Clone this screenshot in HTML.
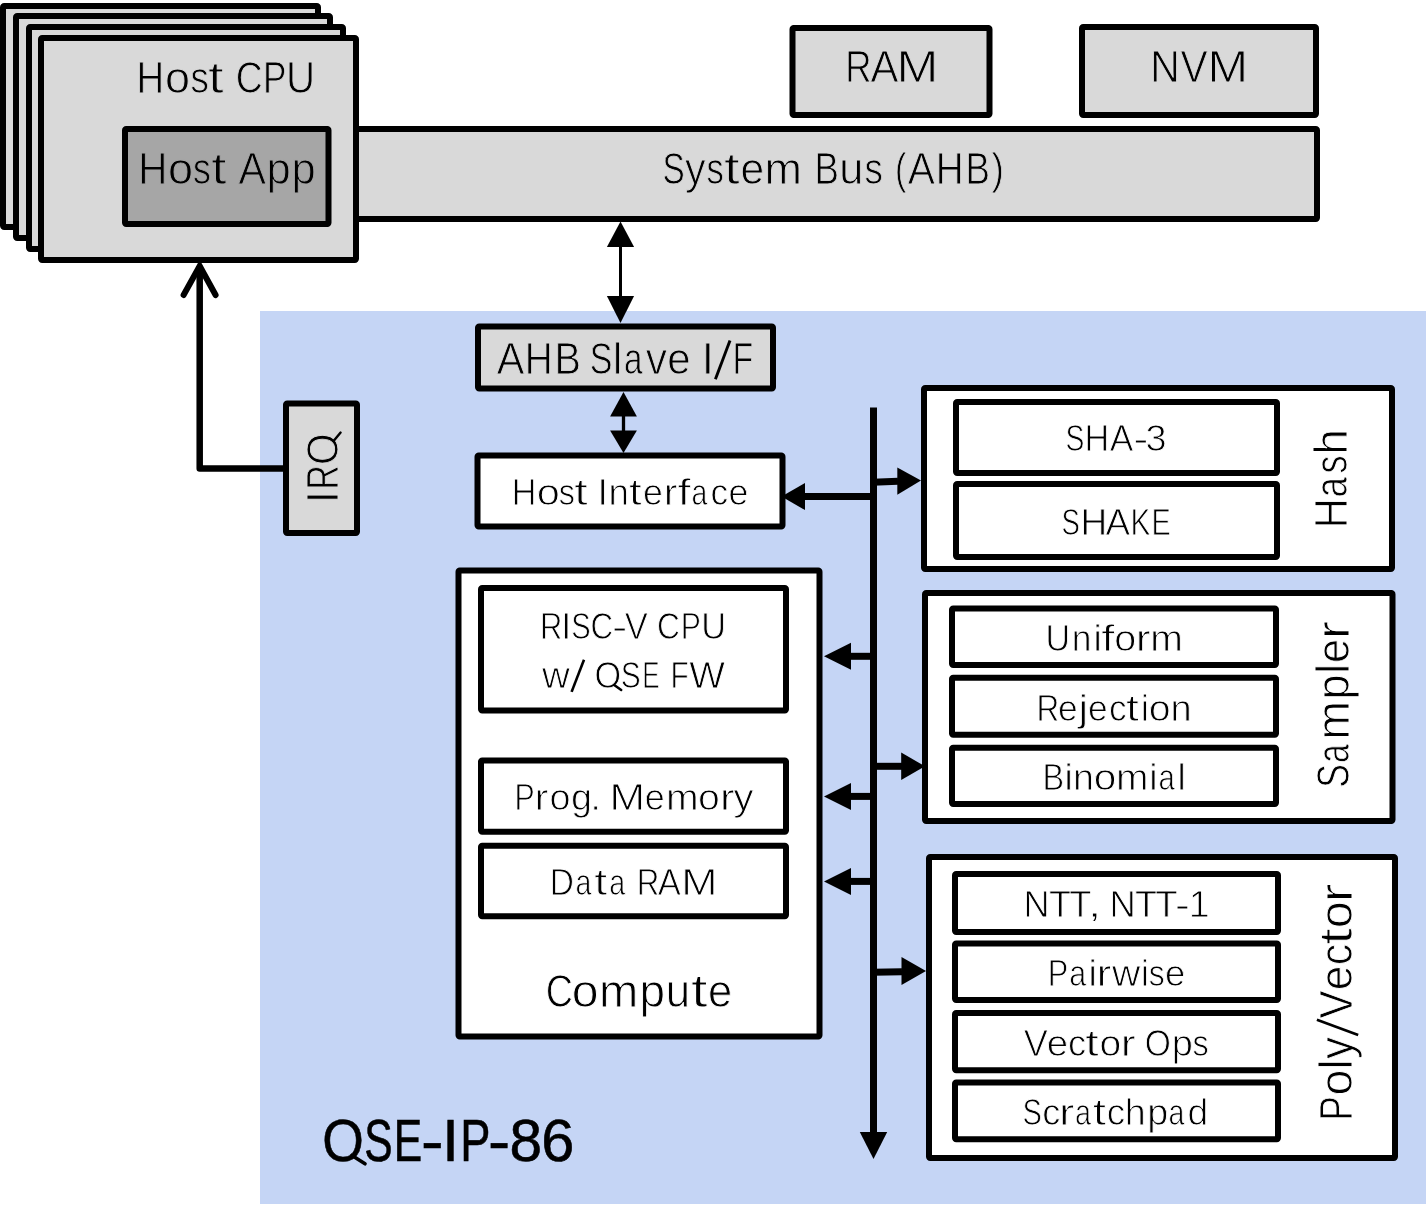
<!DOCTYPE html>
<html><head><meta charset="utf-8"><style>
html,body{margin:0;padding:0;background:#fff;overflow:hidden}
svg{display:block;will-change:transform}
text{font-family:"Liberation Sans",sans-serif;fill:#000}
</style></head><body>
<svg width="1426" height="1217" viewBox="0 0 1426 1217">
<rect x="260" y="311" width="1166" height="893" fill="#c5d5f5"/><rect x="303.00" y="129.00" width="1014.00" height="90.00" fill="#d9d9d9" stroke="#000" stroke-width="6" rx="1.2"/><rect x="3.00" y="6.00" width="315.00" height="221.00" fill="#d9d9d9" stroke="#000" stroke-width="6" rx="1.2"/><rect x="16.00" y="16.00" width="314.00" height="222.00" fill="#d9d9d9" stroke="#000" stroke-width="6" rx="1.2"/><rect x="29.00" y="27.00" width="314.00" height="222.00" fill="#d9d9d9" stroke="#000" stroke-width="6" rx="1.2"/><rect x="41.00" y="38.00" width="315.00" height="222.00" fill="#d9d9d9" stroke="#000" stroke-width="6" rx="1.2"/><rect x="125.00" y="129.00" width="203.50" height="95.00" fill="#a6a6a6" stroke="#000" stroke-width="6" rx="1.2"/><rect x="792.50" y="28.00" width="197.00" height="87.00" fill="#d9d9d9" stroke="#000" stroke-width="6" rx="1.2"/><rect x="1082.00" y="27.00" width="234.00" height="88.00" fill="#d9d9d9" stroke="#000" stroke-width="6" rx="1.2"/><polyline points="283,468.5 199.7,468.5 199.7,266" fill="none" stroke="#000" stroke-width="6.5" stroke-linejoin="round"/><polyline points="183.6,295 199.7,266 215.6,295" fill="none" stroke="#000" stroke-width="6" stroke-linecap="round" stroke-linejoin="miter"/><rect x="286.00" y="403.50" width="71.00" height="129.50" fill="#d9d9d9" stroke="#000" stroke-width="6" rx="1.2"/><rect x="478.00" y="326.50" width="295.00" height="62.00" fill="#d9d9d9" stroke="#000" stroke-width="6" rx="1.2"/><rect x="477.50" y="455.50" width="305.00" height="71.00" fill="#fff" stroke="#000" stroke-width="6" rx="1.2"/><rect x="458.50" y="570.50" width="361.00" height="466.00" fill="#fff" stroke="#000" stroke-width="6" rx="1.2"/><rect x="481.00" y="588.00" width="305.00" height="122.50" fill="#fff" stroke="#000" stroke-width="6" rx="1.2"/><rect x="481.00" y="760.40" width="305.00" height="71.30" fill="#fff" stroke="#000" stroke-width="6" rx="1.2"/><rect x="481.00" y="845.80" width="305.00" height="70.50" fill="#fff" stroke="#000" stroke-width="6" rx="1.2"/><rect x="924.00" y="388.00" width="468.00" height="181.00" fill="#fff" stroke="#000" stroke-width="6" rx="1.2"/><rect x="956.00" y="402.00" width="321.00" height="71.00" fill="#fff" stroke="#000" stroke-width="6" rx="1.2"/><rect x="956.00" y="484.00" width="321.00" height="73.00" fill="#fff" stroke="#000" stroke-width="6" rx="1.2"/><rect x="925.00" y="593.00" width="467.50" height="228.00" fill="#fff" stroke="#000" stroke-width="6" rx="1.2"/><rect x="952.00" y="608.50" width="324.00" height="56.50" fill="#fff" stroke="#000" stroke-width="6" rx="1.2"/><rect x="952.00" y="677.70" width="324.00" height="57.10" fill="#fff" stroke="#000" stroke-width="6" rx="1.2"/><rect x="952.00" y="747.80" width="324.00" height="56.20" fill="#fff" stroke="#000" stroke-width="6" rx="1.2"/><rect x="929.00" y="857.00" width="466.00" height="301.00" fill="#fff" stroke="#000" stroke-width="6" rx="1.2"/><rect x="955.00" y="874.00" width="323.00" height="58.00" fill="#fff" stroke="#000" stroke-width="6" rx="1.2"/><rect x="955.00" y="943.60" width="323.00" height="56.40" fill="#fff" stroke="#000" stroke-width="6" rx="1.2"/><rect x="955.00" y="1013.00" width="323.00" height="57.20" fill="#fff" stroke="#000" stroke-width="6" rx="1.2"/><rect x="955.00" y="1082.50" width="323.00" height="56.70" fill="#fff" stroke="#000" stroke-width="6" rx="1.2"/><line x1="620.5" y1="246" x2="620.5" y2="297" stroke="#000" stroke-width="3"/><polygon points="620.5,221.5 606.9,247 634.1,247" fill="#000"/><polygon points="620.5,323 606.9,296 634.1,296" fill="#000"/><line x1="623.5" y1="416" x2="623.5" y2="431" stroke="#000" stroke-width="3.3"/><polygon points="623.5,392 610.1,416.6 636.9,416.6" fill="#000"/><polygon points="623.5,453 610.1,430.4 636.9,430.4" fill="#000"/><line x1="873.5" y1="407.5" x2="873.5" y2="1133" stroke="#000" stroke-width="7"/><polygon points="873.5,1159 859.8,1132 887.2,1132" fill="#000"/><line x1="804" y1="496.6" x2="873" y2="496.6" stroke="#000" stroke-width="7"/><polygon points="781.5,496.6 805,483.1 805,510.1" fill="#000"/><line x1="873" y1="482.3" x2="898" y2="481.3" stroke="#000" stroke-width="7"/><polygon points="921,480.5 897.3,467.6 897.3,494.8" fill="#000"/><line x1="850" y1="656.3" x2="873" y2="656.3" stroke="#000" stroke-width="7"/><polygon points="824,656.3 851,642.8 851,669.8" fill="#000"/><line x1="850" y1="796.4" x2="873" y2="796.4" stroke="#000" stroke-width="7"/><polygon points="824,796.4 851,782.9 851,809.9" fill="#000"/><line x1="850" y1="881.4" x2="873" y2="881.4" stroke="#000" stroke-width="7"/><polygon points="824,881.4 851,867.9 851,894.9" fill="#000"/><line x1="873" y1="766.3" x2="902" y2="766.3" stroke="#000" stroke-width="7"/><polygon points="925,766.3 901.2,752.5999999999999 901.2,780.0" fill="#000"/><line x1="873" y1="972.3" x2="902" y2="971.8" stroke="#000" stroke-width="7"/><polygon points="926,971 901.5,957 901.5,985" fill="#000"/><text x="136.60" y="92.80" font-size="43.46" font-weight="normal" textLength="27.67" lengthAdjust="spacingAndGlyphs" stroke="#d9d9d9" stroke-width="0.9">H</text><text x="165.00" y="92.80" font-size="43.46" font-weight="normal" textLength="25.04" lengthAdjust="spacingAndGlyphs" stroke="#d9d9d9" stroke-width="0.9">o</text><text x="190.60" y="92.80" font-size="43.46" font-weight="normal" textLength="18.36" lengthAdjust="spacingAndGlyphs" stroke="#d9d9d9" stroke-width="0.9">s</text><text x="208.00" y="92.80" font-size="43.46" font-weight="normal" textLength="15.70" lengthAdjust="spacingAndGlyphs" stroke="#d9d9d9" stroke-width="0.9">t</text><text x="235.80" y="92.80" font-size="43.46" font-weight="normal" textLength="26.94" lengthAdjust="spacingAndGlyphs" stroke="#d9d9d9" stroke-width="0.9">C</text><text x="263.00" y="92.80" font-size="43.46" font-weight="normal" textLength="23.37" lengthAdjust="spacingAndGlyphs" stroke="#d9d9d9" stroke-width="0.9">P</text><text x="286.00" y="92.80" font-size="43.46" font-weight="normal" textLength="29.08" lengthAdjust="spacingAndGlyphs" stroke="#d9d9d9" stroke-width="0.9">U</text><text x="138.20" y="184.00" font-size="43.46" font-weight="normal" textLength="29.15" lengthAdjust="spacingAndGlyphs" stroke="#a6a6a6" stroke-width="0.9">H</text><text x="168.00" y="184.00" font-size="43.46" font-weight="normal" textLength="25.04" lengthAdjust="spacingAndGlyphs" stroke="#a6a6a6" stroke-width="0.9">o</text><text x="193.00" y="184.00" font-size="43.46" font-weight="normal" textLength="17.83" lengthAdjust="spacingAndGlyphs" stroke="#a6a6a6" stroke-width="0.9">s</text><text x="211.20" y="184.00" font-size="43.46" font-weight="normal" textLength="15.25" lengthAdjust="spacingAndGlyphs" stroke="#a6a6a6" stroke-width="0.9">t</text><text x="238.40" y="184.00" font-size="43.46" font-weight="normal" textLength="27.49" lengthAdjust="spacingAndGlyphs" stroke="#a6a6a6" stroke-width="0.9">A</text><text x="266.60" y="184.00" font-size="43.46" font-weight="normal" textLength="24.20" lengthAdjust="spacingAndGlyphs" stroke="#a6a6a6" stroke-width="0.9">p</text><text x="291.60" y="184.00" font-size="43.46" font-weight="normal" textLength="24.17" lengthAdjust="spacingAndGlyphs" stroke="#a6a6a6" stroke-width="0.9">p</text><text x="845.20" y="82.00" font-size="43.90" font-weight="normal" textLength="26.34" lengthAdjust="spacingAndGlyphs" stroke="#d9d9d9" stroke-width="0.9">R</text><text x="870.40" y="82.00" font-size="43.90" font-weight="normal" textLength="27.94" lengthAdjust="spacingAndGlyphs" stroke="#d9d9d9" stroke-width="0.9">A</text><text x="896.40" y="82.00" font-size="43.90" font-weight="normal" textLength="41.85" lengthAdjust="spacingAndGlyphs" stroke="#d9d9d9" stroke-width="0.9">M</text><text x="1150.20" y="81.90" font-size="43.61" font-weight="normal" textLength="29.54" lengthAdjust="spacingAndGlyphs" stroke="#d9d9d9" stroke-width="0.9">N</text><text x="1180.60" y="81.90" font-size="43.61" font-weight="normal" textLength="27.20" lengthAdjust="spacingAndGlyphs" stroke="#d9d9d9" stroke-width="0.9">V</text><text x="1207.40" y="81.90" font-size="43.61" font-weight="normal" textLength="40.57" lengthAdjust="spacingAndGlyphs" stroke="#d9d9d9" stroke-width="0.9">M</text><text x="662.60" y="183.80" font-size="43.46" font-weight="normal" textLength="22.24" lengthAdjust="spacingAndGlyphs" stroke="#d9d9d9" stroke-width="0.9">S</text><text x="685.00" y="183.80" font-size="43.46" font-weight="normal" textLength="20.59" lengthAdjust="spacingAndGlyphs" stroke="#d9d9d9" stroke-width="0.9">y</text><text x="706.40" y="183.80" font-size="43.46" font-weight="normal" textLength="17.28" lengthAdjust="spacingAndGlyphs" stroke="#d9d9d9" stroke-width="0.9">s</text><text x="723.95" y="183.80" font-size="43.46" font-weight="normal" textLength="15.70" lengthAdjust="spacingAndGlyphs" stroke="#d9d9d9" stroke-width="0.9">t</text><text x="740.40" y="183.80" font-size="43.46" font-weight="normal" textLength="23.65" lengthAdjust="spacingAndGlyphs" stroke="#d9d9d9" stroke-width="0.9">e</text><text x="764.40" y="183.80" font-size="43.46" font-weight="normal" textLength="37.43" lengthAdjust="spacingAndGlyphs" stroke="#d9d9d9" stroke-width="0.9">m</text><text x="814.60" y="183.80" font-size="43.46" font-weight="normal" textLength="24.42" lengthAdjust="spacingAndGlyphs" stroke="#d9d9d9" stroke-width="0.9">B</text><text x="839.20" y="183.80" font-size="43.46" font-weight="normal" textLength="24.11" lengthAdjust="spacingAndGlyphs" stroke="#d9d9d9" stroke-width="0.9">u</text><text x="864.60" y="183.80" font-size="43.46" font-weight="normal" textLength="18.36" lengthAdjust="spacingAndGlyphs" stroke="#d9d9d9" stroke-width="0.9">s</text><text x="895.00" y="183.80" font-size="43.46" font-weight="normal" textLength="11.36" lengthAdjust="spacingAndGlyphs" stroke="#d9d9d9" stroke-width="0.9">(</text><text x="907.80" y="183.80" font-size="43.46" font-weight="normal" textLength="27.21" lengthAdjust="spacingAndGlyphs" stroke="#d9d9d9" stroke-width="0.9">A</text><text x="935.80" y="183.80" font-size="43.46" font-weight="normal" textLength="27.91" lengthAdjust="spacingAndGlyphs" stroke="#d9d9d9" stroke-width="0.9">H</text><text x="965.60" y="183.80" font-size="43.46" font-weight="normal" textLength="24.42" lengthAdjust="spacingAndGlyphs" stroke="#d9d9d9" stroke-width="0.9">B</text><text x="991.40" y="183.80" font-size="43.46" font-weight="normal" textLength="12.46" lengthAdjust="spacingAndGlyphs" stroke="#d9d9d9" stroke-width="0.9">)</text><text x="496.80" y="373.90" font-size="43.90" font-weight="normal" textLength="27.61" lengthAdjust="spacingAndGlyphs" stroke="#d9d9d9" stroke-width="0.9">A</text><text x="524.80" y="373.90" font-size="43.90" font-weight="normal" textLength="27.99" lengthAdjust="spacingAndGlyphs" stroke="#d9d9d9" stroke-width="0.9">H</text><text x="554.40" y="373.90" font-size="43.90" font-weight="normal" textLength="26.43" lengthAdjust="spacingAndGlyphs" stroke="#d9d9d9" stroke-width="0.9">B</text><text x="589.80" y="373.90" font-size="43.90" font-weight="normal" textLength="22.67" lengthAdjust="spacingAndGlyphs" stroke="#d9d9d9" stroke-width="0.9">S</text><text x="612.80" y="373.90" font-size="43.90" font-weight="normal" textLength="9.75" lengthAdjust="spacingAndGlyphs" stroke="#d9d9d9" stroke-width="0.9">l</text><text x="624.00" y="373.90" font-size="43.90" font-weight="normal" textLength="18.49" lengthAdjust="spacingAndGlyphs" stroke="#d9d9d9" stroke-width="0.9">a</text><text x="645.80" y="373.90" font-size="43.90" font-weight="normal" textLength="21.30" lengthAdjust="spacingAndGlyphs" stroke="#d9d9d9" stroke-width="0.9">v</text><text x="667.20" y="373.90" font-size="43.90" font-weight="normal" textLength="23.39" lengthAdjust="spacingAndGlyphs" stroke="#d9d9d9" stroke-width="0.9">e</text><text x="701.80" y="373.90" font-size="43.90" font-weight="normal" textLength="12.20" lengthAdjust="spacingAndGlyphs" stroke="#d9d9d9" stroke-width="0.9">I</text><text x="732.60" y="373.90" font-size="43.90" font-weight="normal" textLength="20.69" lengthAdjust="spacingAndGlyphs" stroke="#d9d9d9" stroke-width="0.9">F</text><text x="511.80" y="504.80" font-size="37.36" font-weight="normal" textLength="24.69" lengthAdjust="spacingAndGlyphs" stroke="#fff" stroke-width="0.9">H</text><text x="536.80" y="504.80" font-size="37.36" font-weight="normal" textLength="23.04" lengthAdjust="spacingAndGlyphs" stroke="#fff" stroke-width="0.9">o</text><text x="558.80" y="504.80" font-size="37.36" font-weight="normal" textLength="16.23" lengthAdjust="spacingAndGlyphs" stroke="#fff" stroke-width="0.9">s</text><text x="574.15" y="504.80" font-size="37.36" font-weight="normal" textLength="13.49" lengthAdjust="spacingAndGlyphs" stroke="#fff" stroke-width="0.9">t</text><text x="597.60" y="504.80" font-size="37.36" font-weight="normal" textLength="10.38" lengthAdjust="spacingAndGlyphs" stroke="#fff" stroke-width="0.9">I</text><text x="608.60" y="504.80" font-size="37.36" font-weight="normal" textLength="20.46" lengthAdjust="spacingAndGlyphs" stroke="#fff" stroke-width="0.9">n</text><text x="629.00" y="504.80" font-size="37.36" font-weight="normal" textLength="12.70" lengthAdjust="spacingAndGlyphs" stroke="#fff" stroke-width="0.9">t</text><text x="643.00" y="504.80" font-size="37.36" font-weight="normal" textLength="19.86" lengthAdjust="spacingAndGlyphs" stroke="#fff" stroke-width="0.9">e</text><text x="663.80" y="504.80" font-size="37.36" font-weight="normal" textLength="13.65" lengthAdjust="spacingAndGlyphs" stroke="#fff" stroke-width="0.9">r</text><text x="677.40" y="504.80" font-size="37.36" font-weight="normal" textLength="13.20" lengthAdjust="spacingAndGlyphs" stroke="#fff" stroke-width="0.9">f</text><text x="691.40" y="504.80" font-size="37.36" font-weight="normal" textLength="15.80" lengthAdjust="spacingAndGlyphs" stroke="#fff" stroke-width="0.9">a</text><text x="710.60" y="504.80" font-size="37.36" font-weight="normal" textLength="17.71" lengthAdjust="spacingAndGlyphs" stroke="#fff" stroke-width="0.9">c</text><text x="728.60" y="504.80" font-size="37.36" font-weight="normal" textLength="19.86" lengthAdjust="spacingAndGlyphs" stroke="#fff" stroke-width="0.9">e</text><text x="1065.60" y="450.80" font-size="37.36" font-weight="normal" textLength="18.87" lengthAdjust="spacingAndGlyphs" stroke="#fff" stroke-width="0.9">S</text><text x="1084.60" y="450.80" font-size="37.36" font-weight="normal" textLength="24.64" lengthAdjust="spacingAndGlyphs" stroke="#fff" stroke-width="0.9">H</text><text x="1109.80" y="450.80" font-size="37.36" font-weight="normal" textLength="23.58" lengthAdjust="spacingAndGlyphs" stroke="#fff" stroke-width="0.9">A</text><text x="1133.20" y="450.80" font-size="37.36" font-weight="normal" textLength="15.20" lengthAdjust="spacingAndGlyphs" stroke="#fff" stroke-width="0.9">-</text><text x="1145.60" y="450.80" font-size="37.36" font-weight="normal" textLength="21.05" lengthAdjust="spacingAndGlyphs" stroke="#fff" stroke-width="0.9">3</text><text x="1061.60" y="534.70" font-size="37.36" font-weight="normal" textLength="18.33" lengthAdjust="spacingAndGlyphs" stroke="#fff" stroke-width="0.9">S</text><text x="1080.40" y="534.70" font-size="37.36" font-weight="normal" textLength="26.76" lengthAdjust="spacingAndGlyphs" stroke="#fff" stroke-width="0.9">H</text><text x="1105.60" y="534.70" font-size="37.36" font-weight="normal" textLength="24.65" lengthAdjust="spacingAndGlyphs" stroke="#fff" stroke-width="0.9">A</text><text x="1130.60" y="534.70" font-size="37.36" font-weight="normal" textLength="19.98" lengthAdjust="spacingAndGlyphs" stroke="#fff" stroke-width="0.9">K</text><text x="1151.40" y="534.70" font-size="37.36" font-weight="normal" textLength="19.27" lengthAdjust="spacingAndGlyphs" stroke="#fff" stroke-width="0.9">E</text><text x="1045.40" y="650.80" font-size="37.50" font-weight="normal" textLength="24.59" lengthAdjust="spacingAndGlyphs" stroke="#fff" stroke-width="0.9">U</text><text x="1071.80" y="650.80" font-size="37.50" font-weight="normal" textLength="19.71" lengthAdjust="spacingAndGlyphs" stroke="#fff" stroke-width="0.9">n</text><text x="1093.50" y="650.80" font-size="37.50" font-weight="normal" textLength="8.33" lengthAdjust="spacingAndGlyphs" stroke="#fff" stroke-width="0.9">i</text><text x="1101.35" y="650.80" font-size="37.50" font-weight="normal" textLength="13.32" lengthAdjust="spacingAndGlyphs" stroke="#fff" stroke-width="0.9">f</text><text x="1114.20" y="650.80" font-size="37.50" font-weight="normal" textLength="22.03" lengthAdjust="spacingAndGlyphs" stroke="#fff" stroke-width="0.9">o</text><text x="1135.85" y="650.80" font-size="37.50" font-weight="normal" textLength="14.79" lengthAdjust="spacingAndGlyphs" stroke="#fff" stroke-width="0.9">r</text><text x="1150.20" y="650.80" font-size="37.50" font-weight="normal" textLength="32.69" lengthAdjust="spacingAndGlyphs" stroke="#fff" stroke-width="0.9">m</text><text x="1036.40" y="720.80" font-size="37.36" font-weight="normal" textLength="22.76" lengthAdjust="spacingAndGlyphs" stroke="#fff" stroke-width="0.9">R</text><text x="1058.00" y="720.80" font-size="37.36" font-weight="normal" textLength="19.64" lengthAdjust="spacingAndGlyphs" stroke="#fff" stroke-width="0.9">e</text><text x="1078.30" y="720.80" font-size="37.36" font-weight="normal" textLength="10.11" lengthAdjust="spacingAndGlyphs" stroke="#fff" stroke-width="0.9">j</text><text x="1088.00" y="720.80" font-size="37.36" font-weight="normal" textLength="19.64" lengthAdjust="spacingAndGlyphs" stroke="#fff" stroke-width="0.9">e</text><text x="1109.00" y="720.80" font-size="37.36" font-weight="normal" textLength="17.64" lengthAdjust="spacingAndGlyphs" stroke="#fff" stroke-width="0.9">c</text><text x="1126.00" y="720.80" font-size="37.36" font-weight="normal" textLength="12.90" lengthAdjust="spacingAndGlyphs" stroke="#fff" stroke-width="0.9">t</text><text x="1140.80" y="720.80" font-size="37.36" font-weight="normal" textLength="8.30" lengthAdjust="spacingAndGlyphs" stroke="#fff" stroke-width="0.9">i</text><text x="1148.80" y="720.80" font-size="37.36" font-weight="normal" textLength="21.80" lengthAdjust="spacingAndGlyphs" stroke="#fff" stroke-width="0.9">o</text><text x="1170.60" y="720.80" font-size="37.36" font-weight="normal" textLength="21.20" lengthAdjust="spacingAndGlyphs" stroke="#fff" stroke-width="0.9">n</text><text x="1042.60" y="789.90" font-size="37.21" font-weight="normal" textLength="21.63" lengthAdjust="spacingAndGlyphs" stroke="#fff" stroke-width="0.9">B</text><text x="1064.45" y="789.90" font-size="37.21" font-weight="normal" textLength="8.27" lengthAdjust="spacingAndGlyphs" stroke="#fff" stroke-width="0.9">i</text><text x="1073.00" y="789.90" font-size="37.21" font-weight="normal" textLength="20.95" lengthAdjust="spacingAndGlyphs" stroke="#fff" stroke-width="0.9">n</text><text x="1093.80" y="789.90" font-size="37.21" font-weight="normal" textLength="22.58" lengthAdjust="spacingAndGlyphs" stroke="#fff" stroke-width="0.9">o</text><text x="1116.00" y="789.90" font-size="37.21" font-weight="normal" textLength="32.41" lengthAdjust="spacingAndGlyphs" stroke="#fff" stroke-width="0.9">m</text><text x="1149.35" y="789.90" font-size="37.21" font-weight="normal" textLength="8.27" lengthAdjust="spacingAndGlyphs" stroke="#fff" stroke-width="0.9">i</text><text x="1158.40" y="789.90" font-size="37.21" font-weight="normal" textLength="16.33" lengthAdjust="spacingAndGlyphs" stroke="#fff" stroke-width="0.9">a</text><text x="1177.50" y="789.90" font-size="37.21" font-weight="normal" textLength="8.27" lengthAdjust="spacingAndGlyphs" stroke="#fff" stroke-width="0.9">l</text><text x="1023.40" y="917.20" font-size="37.79" font-weight="normal" textLength="26.15" lengthAdjust="spacingAndGlyphs" stroke="#fff" stroke-width="0.9">N</text><text x="1049.00" y="917.20" font-size="37.79" font-weight="normal" textLength="22.60" lengthAdjust="spacingAndGlyphs" stroke="#fff" stroke-width="0.9">T</text><text x="1069.20" y="917.20" font-size="37.79" font-weight="normal" textLength="22.26" lengthAdjust="spacingAndGlyphs" stroke="#fff" stroke-width="0.9">T</text><text x="1087.70" y="917.20" font-size="37.79" font-weight="normal" textLength="13.65" lengthAdjust="spacingAndGlyphs" stroke="#fff" stroke-width="0.9">,</text><text x="1109.40" y="917.20" font-size="37.79" font-weight="normal" textLength="26.35" lengthAdjust="spacingAndGlyphs" stroke="#fff" stroke-width="0.9">N</text><text x="1135.00" y="917.20" font-size="37.79" font-weight="normal" textLength="22.61" lengthAdjust="spacingAndGlyphs" stroke="#fff" stroke-width="0.9">T</text><text x="1155.20" y="917.20" font-size="37.79" font-weight="normal" textLength="22.41" lengthAdjust="spacingAndGlyphs" stroke="#fff" stroke-width="0.9">T</text><text x="1174.90" y="917.20" font-size="37.79" font-weight="normal" textLength="14.87" lengthAdjust="spacingAndGlyphs" stroke="#fff" stroke-width="0.9">-</text><text x="1188.80" y="917.20" font-size="37.79" font-weight="normal" textLength="20.89" lengthAdjust="spacingAndGlyphs" stroke="#fff" stroke-width="0.9">1</text><text x="1047.80" y="985.90" font-size="37.79" font-weight="normal" textLength="20.47" lengthAdjust="spacingAndGlyphs" stroke="#fff" stroke-width="0.9">P</text><text x="1069.20" y="985.90" font-size="37.79" font-weight="normal" textLength="16.93" lengthAdjust="spacingAndGlyphs" stroke="#fff" stroke-width="0.9">a</text><text x="1088.55" y="985.90" font-size="37.79" font-weight="normal" textLength="8.40" lengthAdjust="spacingAndGlyphs" stroke="#fff" stroke-width="0.9">i</text><text x="1096.60" y="985.90" font-size="37.79" font-weight="normal" textLength="14.84" lengthAdjust="spacingAndGlyphs" stroke="#fff" stroke-width="0.9">r</text><text x="1112.00" y="985.90" font-size="37.79" font-weight="normal" textLength="28.32" lengthAdjust="spacingAndGlyphs" stroke="#fff" stroke-width="0.9">w</text><text x="1140.70" y="985.90" font-size="37.79" font-weight="normal" textLength="8.40" lengthAdjust="spacingAndGlyphs" stroke="#fff" stroke-width="0.9">i</text><text x="1148.80" y="985.90" font-size="37.79" font-weight="normal" textLength="15.95" lengthAdjust="spacingAndGlyphs" stroke="#fff" stroke-width="0.9">s</text><text x="1165.00" y="985.90" font-size="37.79" font-weight="normal" textLength="20.25" lengthAdjust="spacingAndGlyphs" stroke="#fff" stroke-width="0.9">e</text><text x="1023.80" y="1055.80" font-size="37.36" font-weight="normal" textLength="24.11" lengthAdjust="spacingAndGlyphs" stroke="#fff" stroke-width="0.9">V</text><text x="1046.80" y="1055.80" font-size="37.36" font-weight="normal" textLength="21.40" lengthAdjust="spacingAndGlyphs" stroke="#fff" stroke-width="0.9">e</text><text x="1068.00" y="1055.80" font-size="37.36" font-weight="normal" textLength="18.20" lengthAdjust="spacingAndGlyphs" stroke="#fff" stroke-width="0.9">c</text><text x="1085.15" y="1055.80" font-size="37.36" font-weight="normal" textLength="13.49" lengthAdjust="spacingAndGlyphs" stroke="#fff" stroke-width="0.9">t</text><text x="1099.60" y="1055.80" font-size="37.36" font-weight="normal" textLength="21.76" lengthAdjust="spacingAndGlyphs" stroke="#fff" stroke-width="0.9">o</text><text x="1120.80" y="1055.80" font-size="37.36" font-weight="normal" textLength="14.86" lengthAdjust="spacingAndGlyphs" stroke="#fff" stroke-width="0.9">r</text><text x="1144.80" y="1055.80" font-size="37.36" font-weight="normal" textLength="26.16" lengthAdjust="spacingAndGlyphs" stroke="#fff" stroke-width="0.9">O</text><text x="1171.80" y="1055.80" font-size="37.36" font-weight="normal" textLength="21.17" lengthAdjust="spacingAndGlyphs" stroke="#fff" stroke-width="0.9">p</text><text x="1192.60" y="1055.80" font-size="37.36" font-weight="normal" textLength="16.24" lengthAdjust="spacingAndGlyphs" stroke="#fff" stroke-width="0.9">s</text><text x="1022.60" y="1124.50" font-size="37.06" font-weight="normal" textLength="19.36" lengthAdjust="spacingAndGlyphs" stroke="#fff" stroke-width="0.9">S</text><text x="1042.20" y="1124.50" font-size="37.06" font-weight="normal" textLength="18.13" lengthAdjust="spacingAndGlyphs" stroke="#fff" stroke-width="0.9">c</text><text x="1059.00" y="1124.50" font-size="37.06" font-weight="normal" textLength="15.43" lengthAdjust="spacingAndGlyphs" stroke="#fff" stroke-width="0.9">r</text><text x="1075.00" y="1124.50" font-size="37.06" font-weight="normal" textLength="16.03" lengthAdjust="spacingAndGlyphs" stroke="#fff" stroke-width="0.9">a</text><text x="1092.85" y="1124.50" font-size="37.06" font-weight="normal" textLength="13.39" lengthAdjust="spacingAndGlyphs" stroke="#fff" stroke-width="0.9">t</text><text x="1106.80" y="1124.50" font-size="37.06" font-weight="normal" textLength="18.45" lengthAdjust="spacingAndGlyphs" stroke="#fff" stroke-width="0.9">c</text><text x="1124.80" y="1124.50" font-size="37.06" font-weight="normal" textLength="21.02" lengthAdjust="spacingAndGlyphs" stroke="#fff" stroke-width="0.9">h</text><text x="1147.20" y="1124.50" font-size="37.06" font-weight="normal" textLength="20.99" lengthAdjust="spacingAndGlyphs" stroke="#fff" stroke-width="0.9">p</text><text x="1168.40" y="1124.50" font-size="37.06" font-weight="normal" textLength="15.95" lengthAdjust="spacingAndGlyphs" stroke="#fff" stroke-width="0.9">a</text><text x="1187.40" y="1124.50" font-size="37.06" font-weight="normal" textLength="20.73" lengthAdjust="spacingAndGlyphs" stroke="#fff" stroke-width="0.9">d</text><text x="540.00" y="639.00" font-size="37.36" font-weight="normal" textLength="22.32" lengthAdjust="spacingAndGlyphs" stroke="#fff" stroke-width="0.9">R</text><text x="561.05" y="639.00" font-size="37.36" font-weight="normal" textLength="10.38" lengthAdjust="spacingAndGlyphs" stroke="#fff" stroke-width="0.9">I</text><text x="571.20" y="639.00" font-size="37.36" font-weight="normal" textLength="19.41" lengthAdjust="spacingAndGlyphs" stroke="#fff" stroke-width="0.9">S</text><text x="590.60" y="639.00" font-size="37.36" font-weight="normal" textLength="22.65" lengthAdjust="spacingAndGlyphs" stroke="#fff" stroke-width="0.9">C</text><text x="612.00" y="639.00" font-size="37.36" font-weight="normal" textLength="15.41" lengthAdjust="spacingAndGlyphs" stroke="#fff" stroke-width="0.9">-</text><text x="624.80" y="639.00" font-size="37.36" font-weight="normal" textLength="23.12" lengthAdjust="spacingAndGlyphs" stroke="#fff" stroke-width="0.9">V</text><text x="657.00" y="639.00" font-size="37.36" font-weight="normal" textLength="22.93" lengthAdjust="spacingAndGlyphs" stroke="#fff" stroke-width="0.9">C</text><text x="680.80" y="639.00" font-size="37.36" font-weight="normal" textLength="20.15" lengthAdjust="spacingAndGlyphs" stroke="#fff" stroke-width="0.9">P</text><text x="701.20" y="639.00" font-size="37.36" font-weight="normal" textLength="24.81" lengthAdjust="spacingAndGlyphs" stroke="#fff" stroke-width="0.9">U</text><text x="542.00" y="688.10" font-size="37.06" font-weight="normal" textLength="27.84" lengthAdjust="spacingAndGlyphs" stroke="#fff" stroke-width="0.9">w</text><text x="594.60" y="688.10" font-size="37.06" font-weight="normal" textLength="26.69" lengthAdjust="spacingAndGlyphs" stroke="#fff" stroke-width="0.9">O</text><text x="620.80" y="688.10" font-size="37.06" font-weight="normal" textLength="19.96" lengthAdjust="spacingAndGlyphs" stroke="#fff" stroke-width="0.9">S</text><text x="642.20" y="688.10" font-size="37.06" font-weight="normal" textLength="17.31" lengthAdjust="spacingAndGlyphs" stroke="#fff" stroke-width="0.9">E</text><text x="670.40" y="688.10" font-size="37.06" font-weight="normal" textLength="18.23" lengthAdjust="spacingAndGlyphs" stroke="#fff" stroke-width="0.9">F</text><text x="689.20" y="688.10" font-size="37.06" font-weight="normal" textLength="35.71" lengthAdjust="spacingAndGlyphs" stroke="#fff" stroke-width="0.9">W</text><text x="514.40" y="809.70" font-size="37.06" font-weight="normal" textLength="20.24" lengthAdjust="spacingAndGlyphs" stroke="#fff" stroke-width="0.9">P</text><text x="534.40" y="809.70" font-size="37.06" font-weight="normal" textLength="13.89" lengthAdjust="spacingAndGlyphs" stroke="#fff" stroke-width="0.9">r</text><text x="549.40" y="809.70" font-size="37.06" font-weight="normal" textLength="21.04" lengthAdjust="spacingAndGlyphs" stroke="#fff" stroke-width="0.9">o</text><text x="571.00" y="809.70" font-size="37.06" font-weight="normal" textLength="20.99" lengthAdjust="spacingAndGlyphs" stroke="#fff" stroke-width="0.9">g</text><text x="590.60" y="809.70" font-size="37.06" font-weight="normal" textLength="10.30" lengthAdjust="spacingAndGlyphs" stroke="#fff" stroke-width="0.9">.</text><text x="609.60" y="809.70" font-size="37.06" font-weight="normal" textLength="35.62" lengthAdjust="spacingAndGlyphs" stroke="#fff" stroke-width="0.9">M</text><text x="644.80" y="809.70" font-size="37.06" font-weight="normal" textLength="19.98" lengthAdjust="spacingAndGlyphs" stroke="#fff" stroke-width="0.9">e</text><text x="666.00" y="809.70" font-size="37.06" font-weight="normal" textLength="32.58" lengthAdjust="spacingAndGlyphs" stroke="#fff" stroke-width="0.9">m</text><text x="698.00" y="809.70" font-size="37.06" font-weight="normal" textLength="21.76" lengthAdjust="spacingAndGlyphs" stroke="#fff" stroke-width="0.9">o</text><text x="719.90" y="809.70" font-size="37.06" font-weight="normal" textLength="14.59" lengthAdjust="spacingAndGlyphs" stroke="#fff" stroke-width="0.9">r</text><text x="733.40" y="809.70" font-size="37.06" font-weight="normal" textLength="19.98" lengthAdjust="spacingAndGlyphs" stroke="#fff" stroke-width="0.9">y</text><text x="549.80" y="894.90" font-size="37.06" font-weight="normal" textLength="24.22" lengthAdjust="spacingAndGlyphs" stroke="#fff" stroke-width="0.9">D</text><text x="575.40" y="894.90" font-size="37.06" font-weight="normal" textLength="15.95" lengthAdjust="spacingAndGlyphs" stroke="#fff" stroke-width="0.9">a</text><text x="594.20" y="894.90" font-size="37.06" font-weight="normal" textLength="13.00" lengthAdjust="spacingAndGlyphs" stroke="#fff" stroke-width="0.9">t</text><text x="609.20" y="894.90" font-size="37.06" font-weight="normal" textLength="15.95" lengthAdjust="spacingAndGlyphs" stroke="#fff" stroke-width="0.9">a</text><text x="636.80" y="894.90" font-size="37.06" font-weight="normal" textLength="22.60" lengthAdjust="spacingAndGlyphs" stroke="#fff" stroke-width="0.9">R</text><text x="657.80" y="894.90" font-size="37.06" font-weight="normal" textLength="23.12" lengthAdjust="spacingAndGlyphs" stroke="#fff" stroke-width="0.9">A</text><text x="681.20" y="894.90" font-size="37.06" font-weight="normal" textLength="36.21" lengthAdjust="spacingAndGlyphs" stroke="#fff" stroke-width="0.9">M</text><text x="545.80" y="1007.10" font-size="45.79" font-weight="normal" textLength="27.26" lengthAdjust="spacingAndGlyphs" stroke="#fff" stroke-width="0.9">C</text><text x="571.80" y="1007.10" font-size="45.79" font-weight="normal" textLength="26.80" lengthAdjust="spacingAndGlyphs" stroke="#fff" stroke-width="0.9">o</text><text x="599.00" y="1007.10" font-size="45.79" font-weight="normal" textLength="39.28" lengthAdjust="spacingAndGlyphs" stroke="#fff" stroke-width="0.9">m</text><text x="639.40" y="1007.10" font-size="45.79" font-weight="normal" textLength="25.54" lengthAdjust="spacingAndGlyphs" stroke="#fff" stroke-width="0.9">p</text><text x="665.80" y="1007.10" font-size="45.79" font-weight="normal" textLength="24.33" lengthAdjust="spacingAndGlyphs" stroke="#fff" stroke-width="0.9">u</text><text x="691.10" y="1007.10" font-size="45.79" font-weight="normal" textLength="16.54" lengthAdjust="spacingAndGlyphs" stroke="#fff" stroke-width="0.9">t</text><text x="708.00" y="1007.10" font-size="45.79" font-weight="normal" textLength="24.17" lengthAdjust="spacingAndGlyphs" stroke="#fff" stroke-width="0.9">e</text><text x="322.20" y="1160.80" font-size="59.59" font-weight="normal" textLength="41.61" lengthAdjust="spacingAndGlyphs" stroke="#000" stroke-width="0.6">O</text><text x="364.20" y="1160.80" font-size="59.59" font-weight="normal" textLength="28.39" lengthAdjust="spacingAndGlyphs" stroke="#000" stroke-width="0.6">S</text><text x="393.75" y="1160.80" font-size="59.59" font-weight="normal" textLength="28.47" lengthAdjust="spacingAndGlyphs" stroke="#000" stroke-width="0.6">E</text><text x="421.00" y="1160.80" font-size="59.59" font-weight="normal" textLength="22.50" lengthAdjust="spacingAndGlyphs" stroke="#000" stroke-width="0.6">-</text><text x="442.25" y="1160.80" font-size="59.59" font-weight="normal" textLength="16.56" lengthAdjust="spacingAndGlyphs" stroke="#000" stroke-width="0.6">I</text><text x="460.20" y="1160.80" font-size="59.59" font-weight="normal" textLength="30.22" lengthAdjust="spacingAndGlyphs" stroke="#000" stroke-width="0.6">P</text><text x="488.00" y="1160.80" font-size="59.59" font-weight="normal" textLength="22.18" lengthAdjust="spacingAndGlyphs" stroke="#000" stroke-width="0.6">-</text><text x="509.40" y="1160.80" font-size="59.59" font-weight="normal" textLength="32.63" lengthAdjust="spacingAndGlyphs" stroke="#000" stroke-width="0.6">8</text><text x="541.20" y="1160.80" font-size="59.59" font-weight="normal" textLength="33.06" lengthAdjust="spacingAndGlyphs" stroke="#000" stroke-width="0.6">6</text><text transform="translate(337.50,503.20) rotate(-90)" x="0" y="0" font-size="43.75" font-weight="normal" textLength="12.16" lengthAdjust="spacingAndGlyphs" stroke="#d9d9d9" stroke-width="0.9">I</text><text transform="translate(337.50,489.80) rotate(-90)" x="0" y="0" font-size="43.75" font-weight="normal" textLength="24.73" lengthAdjust="spacingAndGlyphs" stroke="#d9d9d9" stroke-width="0.9">R</text><text transform="translate(337.50,465.00) rotate(-90)" x="0" y="0" font-size="43.75" font-weight="normal" textLength="31.69" lengthAdjust="spacingAndGlyphs" stroke="#d9d9d9" stroke-width="0.9">O</text><text transform="translate(1346.80,528.20) rotate(-90)" x="0" y="0" font-size="45.79" font-weight="normal" textLength="29.95" lengthAdjust="spacingAndGlyphs" stroke="#fff" stroke-width="0.9">H</text><text transform="translate(1346.80,497.60) rotate(-90)" x="0" y="0" font-size="45.79" font-weight="normal" textLength="20.42" lengthAdjust="spacingAndGlyphs" stroke="#fff" stroke-width="0.9">a</text><text transform="translate(1346.80,473.40) rotate(-90)" x="0" y="0" font-size="45.79" font-weight="normal" textLength="18.11" lengthAdjust="spacingAndGlyphs" stroke="#fff" stroke-width="0.9">s</text><text transform="translate(1346.80,454.80) rotate(-90)" x="0" y="0" font-size="45.79" font-weight="normal" textLength="25.68" lengthAdjust="spacingAndGlyphs" stroke="#fff" stroke-width="0.9">h</text><text transform="translate(1349.20,787.80) rotate(-90)" x="0" y="0" font-size="46.95" font-weight="normal" textLength="23.69" lengthAdjust="spacingAndGlyphs" stroke="#fff" stroke-width="0.9">S</text><text transform="translate(1349.20,763.00) rotate(-90)" x="0" y="0" font-size="46.95" font-weight="normal" textLength="18.81" lengthAdjust="spacingAndGlyphs" stroke="#fff" stroke-width="0.9">a</text><text transform="translate(1349.20,739.80) rotate(-90)" x="0" y="0" font-size="46.95" font-weight="normal" textLength="38.79" lengthAdjust="spacingAndGlyphs" stroke="#fff" stroke-width="0.9">m</text><text transform="translate(1349.20,699.80) rotate(-90)" x="0" y="0" font-size="46.95" font-weight="normal" textLength="25.48" lengthAdjust="spacingAndGlyphs" stroke="#fff" stroke-width="0.9">p</text><text transform="translate(1349.20,674.10) rotate(-90)" x="0" y="0" font-size="46.95" font-weight="normal" textLength="10.43" lengthAdjust="spacingAndGlyphs" stroke="#fff" stroke-width="0.9">l</text><text transform="translate(1349.20,663.00) rotate(-90)" x="0" y="0" font-size="46.95" font-weight="normal" textLength="24.17" lengthAdjust="spacingAndGlyphs" stroke="#fff" stroke-width="0.9">e</text><text transform="translate(1349.20,639.20) rotate(-90)" x="0" y="0" font-size="46.95" font-weight="normal" textLength="18.30" lengthAdjust="spacingAndGlyphs" stroke="#fff" stroke-width="0.9">r</text><text transform="translate(1351.90,1120.60) rotate(-90)" x="0" y="0" font-size="46.95" font-weight="normal" textLength="24.39" lengthAdjust="spacingAndGlyphs" stroke="#fff" stroke-width="0.9">P</text><text transform="translate(1351.90,1095.40) rotate(-90)" x="0" y="0" font-size="46.95" font-weight="normal" textLength="25.98" lengthAdjust="spacingAndGlyphs" stroke="#fff" stroke-width="0.9">o</text><text transform="translate(1351.90,1069.60) rotate(-90)" x="0" y="0" font-size="46.95" font-weight="normal" textLength="10.43" lengthAdjust="spacingAndGlyphs" stroke="#fff" stroke-width="0.9">l</text><text transform="translate(1351.90,1059.00) rotate(-90)" x="0" y="0" font-size="46.95" font-weight="normal" textLength="22.10" lengthAdjust="spacingAndGlyphs" stroke="#fff" stroke-width="0.9">y</text><text transform="translate(1351.90,1018.40) rotate(-90)" x="0" y="0" font-size="46.95" font-weight="normal" textLength="28.00" lengthAdjust="spacingAndGlyphs" stroke="#fff" stroke-width="0.9">V</text><text transform="translate(1351.90,990.20) rotate(-90)" x="0" y="0" font-size="46.95" font-weight="normal" textLength="24.69" lengthAdjust="spacingAndGlyphs" stroke="#fff" stroke-width="0.9">e</text><text transform="translate(1351.90,965.20) rotate(-90)" x="0" y="0" font-size="46.95" font-weight="normal" textLength="21.52" lengthAdjust="spacingAndGlyphs" stroke="#fff" stroke-width="0.9">c</text><text transform="translate(1351.90,944.80) rotate(-90)" x="0" y="0" font-size="46.95" font-weight="normal" textLength="16.41" lengthAdjust="spacingAndGlyphs" stroke="#fff" stroke-width="0.9">t</text><text transform="translate(1351.90,928.20) rotate(-90)" x="0" y="0" font-size="46.95" font-weight="normal" textLength="26.99" lengthAdjust="spacingAndGlyphs" stroke="#fff" stroke-width="0.9">o</text><text transform="translate(1351.90,902.40) rotate(-90)" x="0" y="0" font-size="46.95" font-weight="normal" textLength="18.93" lengthAdjust="spacingAndGlyphs" stroke="#fff" stroke-width="0.9">r</text><line x1="352" y1="1155.5" x2="365" y2="1163.8" stroke="#000" stroke-width="3.6" stroke-linecap="round"/><line x1="614.2" y1="685" x2="621.2" y2="690" stroke="#000" stroke-width="2.5" stroke-linecap="round"/><line x1="334" y1="440.6" x2="340.6" y2="432.6" stroke="#000" stroke-width="2.4" stroke-linecap="round"/><line x1="715.4" y1="379.2" x2="730" y2="340.5" stroke="#000" stroke-width="2.9"/><line x1="571.6" y1="691.9" x2="584" y2="659.8" stroke="#000" stroke-width="2.6"/><line x1="1316.9" y1="1019.8" x2="1358.2" y2="1034.9" stroke="#000" stroke-width="2.7"/>
</svg>
</body></html>
